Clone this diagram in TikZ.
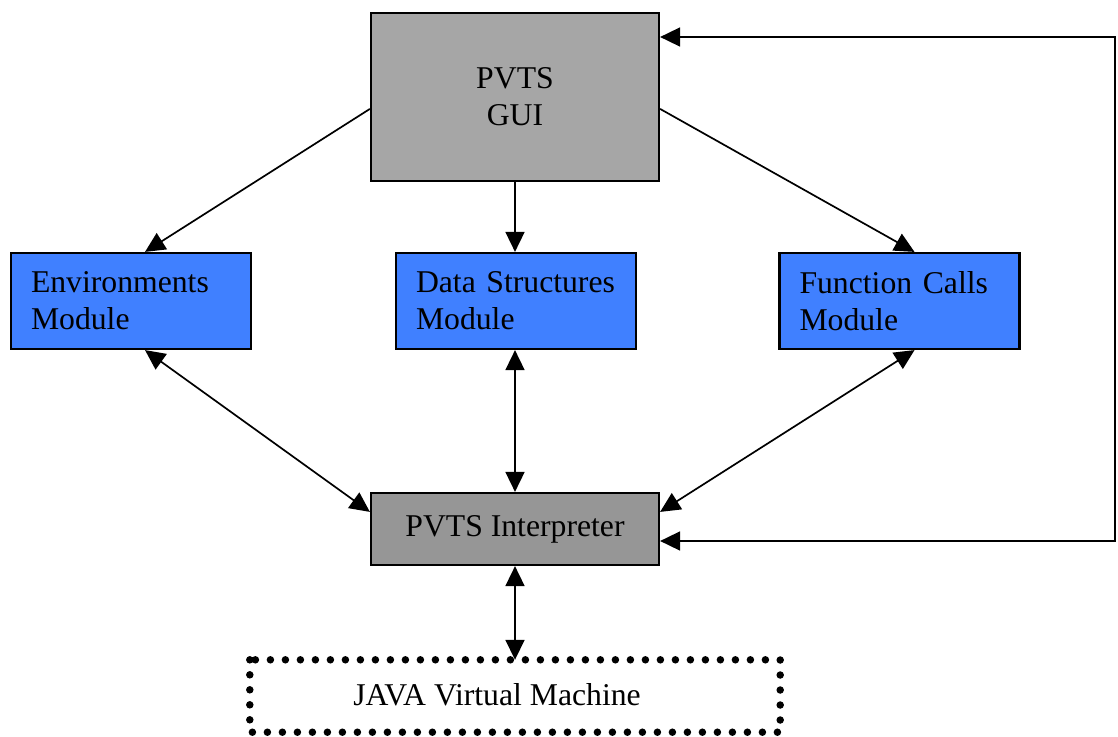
\documentclass[tikz,border=0pt]{standalone}
\usepackage{fontspec}
\setmainfont{Liberation Serif}
\usetikzlibrary{arrows.meta,calc}
\definecolor{guigray}{HTML}{A6A6A6}
\definecolor{intgray}{HTML}{969696}
\definecolor{modblue}{HTML}{4080FF}
\begin{document}
\begin{tikzpicture}[x=1pt,y=-1pt,
  lbl/.style={font=\fontsize{31.7}{37}\selectfont},
  box/.style={draw=black,line width=2.2pt,inner sep=0pt,lbl},
  modbox/.style={box,fill=modblue,minimum width=240pt,minimum height=96pt,
     text width=200pt,align=left},
  con/.style={line width=1.7pt,-{Triangle[length=20pt,width=19pt]}},
  bicon/.style={line width=1.7pt,{Triangle[length=20pt,width=19pt]}-{Triangle[length=20pt,width=19pt]}},
  dotbox/.style={line width=7.5pt,line cap=round,dash pattern=on 0pt off 15pt}]
\useasboundingbox (0,0) rectangle (1118,736);
\node[box,fill=guigray,minimum width=288pt,minimum height=168pt,align=center] (gui) at (515,97) {PVTS\\GUI};
\node[modbox] (env) at (131,301) {Environments\\Module};
\node[modbox] (ds) at (516,301) {Data Structures\\Module};
\node[modbox] (fc) at (899.5,301) {Function Calls\\Module};
\node[box,fill=intgray,minimum width=288pt,minimum height=72pt] (int) at (515,529) {PVTS Interpreter};
\node[lbl,minimum width=530pt,minimum height=72pt,inner sep=0pt,text depth=0pt] (jvm) at (515,696) {};
\node[lbl,anchor=base] (jvmt) at (497,705) {JAVA Virtual Machine};
\draw[dotbox] (jvm.north west) rectangle (jvm.south east);
\coordinate (cb) at (1115,541);
\coordinate (ct) at (1115,37);
% connectors
\draw[con] ($(gui.north west)+(0,97)$) -- ($(env.north)+(14,0)$);
\draw[con] (gui.south) -- (ds.north -| gui.south);
\draw[con] ($(gui.north east)+(0,97)$) -- ($(fc.north)+(15,0)$);
\draw[bicon] ($(env.south)+(14,0)$) -- ($(int.north west)+(0,20)$);
\draw[bicon] (ds.south -| int.north) -- (int.north);
\draw[bicon] ($(fc.south)+(15,0)$) -- ($(int.north east)+(0,20)$);
\draw[bicon] (int.south) -- (jvm.north);
\draw[bicon] (int.east |- cb) -- (cb) -- (ct) -- (gui.east |- ct);
\end{tikzpicture}
\end{document}
